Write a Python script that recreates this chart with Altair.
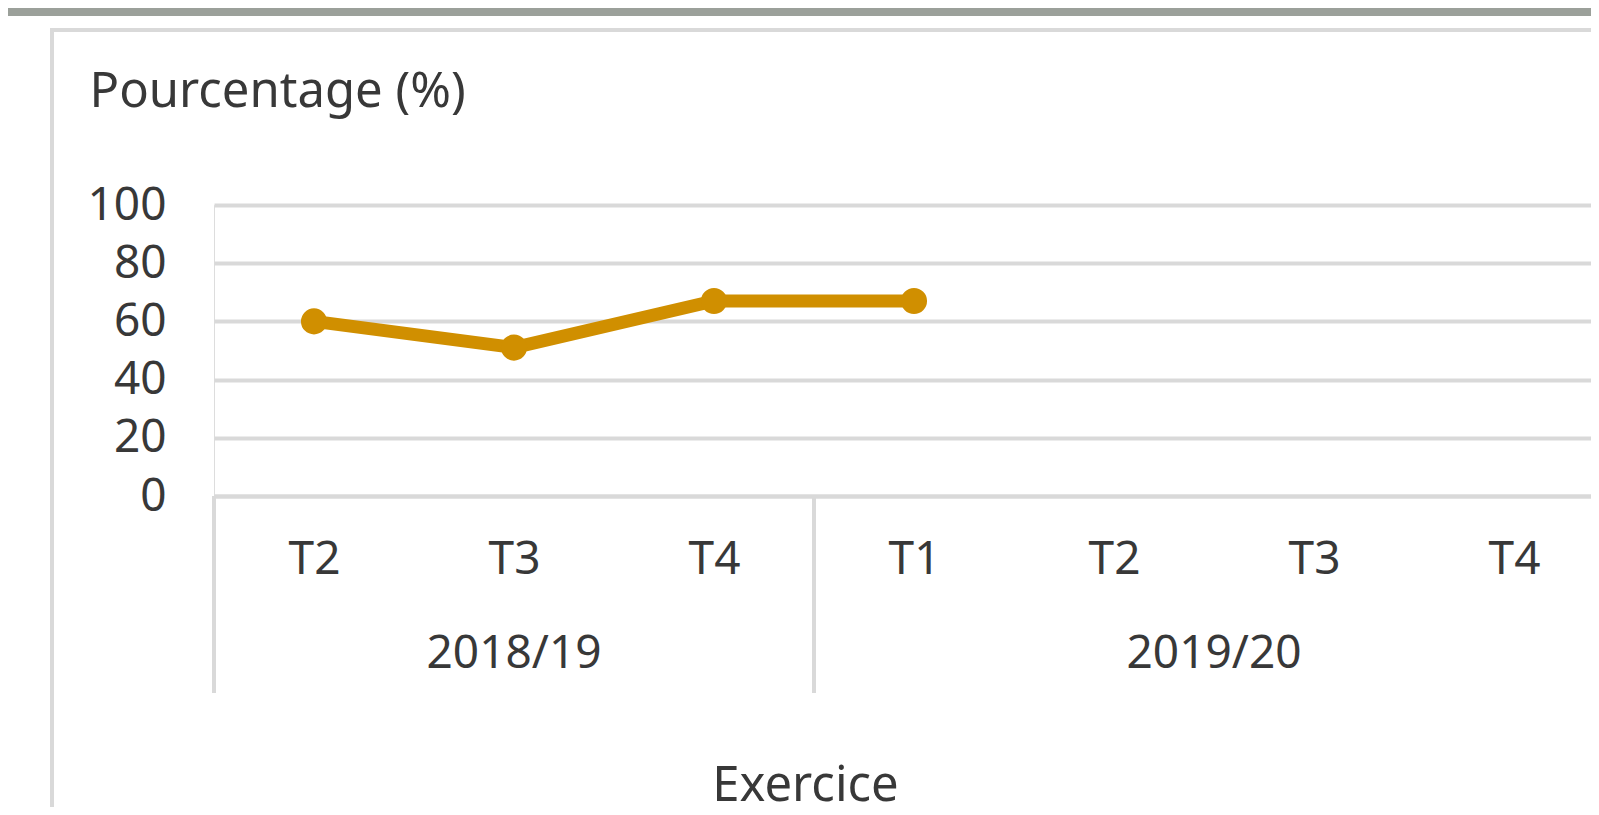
import altair as alt
import pandas as pd

# ---------------- data ----------------
quarters = ["T2", "T3", "T4", "T1", "T2", "T3", "T4"]
years = ["2018/19", "2018/19", "2018/19", "2019/20", "2019/20", "2019/20", "2019/20"]
values = [60, 51, 67, 67, None, None, None]
year_labels = ["2018/19", "2019/20"]
y_ticks = [0, 20, 40, 60, 80, 100]

# ---------------- style ----------------
FONT = "Noto Sans"
TXT = "#383838"
GRID = "#D9D9D9"
LINE = "#D08F00"
FS = 46
FS_TITLE = 49

idx = list(range(len(quarters)))
df = pd.DataFrame({"i": idx, "q": quarters, "year": years, "v": values})
pts = df.dropna(subset=["v"])

# year groups: centre and boundaries taken from the category table
groups = []
for y in year_labels:
    ii = [k for k, yy in enumerate(years) if yy == y]
    groups.append({"year": y, "c": (ii[0] + ii[-1]) / 2, "lo": ii[0] - 0.5, "hi": ii[-1] + 0.5})
gdf = pd.DataFrame(groups)
bounds = sorted(set(gdf["lo"]).union(set(gdf["hi"])))
bdf = pd.DataFrame({"b": bounds})

W, H = 1377, 291
x_dom = [-0.5, -0.5 + W / 200.0]

label_expr = "[" + ",".join("'%s'" % q for q in quarters) + "][datum.value]"

x_enc = alt.X(
    "i:Q",
    scale=alt.Scale(domain=x_dom, nice=False, zero=False),
    axis=alt.Axis(
        values=idx, labelExpr=label_expr, grid=False, ticks=False, tickSize=0,
        domain=True, domainColor=GRID, domainWidth=4,
        labelFont=FONT, labelFontSize=FS, labelColor=TXT,
        labelBaseline="alphabetic", labelPadding=77, labelFlush=False,
        title="Exercice", titleFont=FONT, titleFontSize=FS_TITLE, titleColor=TXT,
        titleFontWeight="normal", titleX=591, titleY=304,
        titleBaseline="alphabetic", titleAlign="center", titleAnchor=None,
    ),
)
y_enc = alt.Y(
    "v:Q",
    scale=alt.Scale(domain=[0, 100], nice=False),
    axis=alt.Axis(
        values=y_ticks, grid=True, gridColor=GRID, gridWidth=4,
        domain=False, ticks=False, tickSize=0,
        labelFont=FONT, labelFontSize=FS, labelColor=TXT, labelPadding=48,
        labelBaseline="middle",
        title="Pourcentage (%)", titleFont=FONT, titleFontSize=FS_TITLE, titleColor=TXT,
        titleFontWeight="normal", titleAngle=0, titleX=-125, titleY=-99,
        titleAlign="left", titleBaseline="alphabetic",
    ),
)

one = pd.DataFrame({"d": [0]})

# decorations: grey band on top and chart-area border
band = alt.Chart(one).mark_rect(color="#9BA09A").encode(
    x=alt.value(-230), x2=alt.value(1420), y=alt.value(-205), y2=alt.value(-189)
)
border_top = alt.Chart(one).mark_rule(color=GRID, strokeWidth=4).encode(
    x=alt.value(-164), x2=alt.value(1420), y=alt.value(-175)
)
border_left = alt.Chart(one).mark_rule(color=GRID, strokeWidth=4).encode(
    x=alt.value(-162), y=alt.value(-177), y2=alt.value(700)
)

base = alt.Chart(df).mark_point(opacity=0).encode(x=x_enc, y=y_enc)

seps = alt.Chart(bdf).mark_rule(color=GRID, strokeWidth=4).encode(
    x=alt.X("b:Q"), y=alt.value(291), y2=alt.value(488)
)
year_text = alt.Chart(gdf).mark_text(
    font=FONT, fontSize=FS, color=TXT, baseline="alphabetic", align="center"
).encode(x=alt.X("c:Q"), y=alt.value(463), text="year:N")

line = alt.Chart(pts).mark_line(color=LINE, strokeWidth=13).encode(x="i:Q", y="v:Q")
dots = alt.Chart(pts).mark_circle(color=LINE, opacity=1, size=680).encode(x="i:Q", y="v:Q")

chart = alt.layer(band, border_top, border_left, base, seps, year_text, line, dots).properties(
    width=W, height=H,
    autosize=alt.AutoSizeParams(type="none"),
    padding={"left": 206, "top": 197, "right": 0, "bottom": 311},
).configure_view(stroke=None).configure(background="white")

chart.save("out.html", embed_options={"renderer": "svg", "actions": False})
